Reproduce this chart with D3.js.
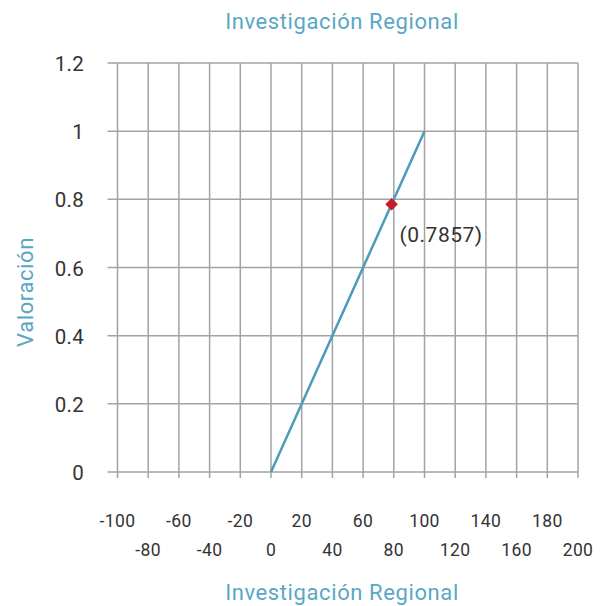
<!DOCTYPE html>
<html><head><meta charset="utf-8">
<script src="https://cdn.jsdelivr.net/npm/d3@7"></script>
<style>
html,body{margin:0;padding:0;background:#fff;}
svg text{font-family:Roboto,"DejaVu Sans",sans-serif;}
</style>
</head><body>
<svg id="c" width="601" height="606"></svg>
<script>
const titleText = "Investigación Regional";
const xTitle = "Investigación Regional";
const yTitle = "Valoración";
const xTicks = [-100,-80,-60,-40,-20,0,20,40,60,80,100,120,140,160,180,200];
const yTicks = [0,0.2,0.4,0.6,0.8,1,1.2];
const lineX = [0,100];
const lineY = [0,1];
const pointX = [78.57];
const pointY = [0.7857];
const pointLabels = ["(0.7857)"];

const svg = d3.select("#c");
const L=117.5, R=578, T=63, B=472;
const x = d3.scaleLinear().domain([-100,200]).range([L,R]);
const y = d3.scaleLinear().domain([0,1.2]).range([B,T]);
const gridC = "#a3a3a3", blue="#5aa7c5", txt="#333";

svg.append("g").selectAll("line").data(xTicks).join("line")
  .attr("x1",d=>x(d)).attr("x2",d=>x(d)).attr("y1",T).attr("y2",B+6)
  .attr("stroke",gridC).attr("stroke-width",1.5);
svg.append("g").selectAll("line").data(yTicks).join("line")
  .attr("x1",L-10).attr("x2",R).attr("y1",d=>y(d)).attr("y2",d=>y(d))
  .attr("stroke",gridC).attr("stroke-width",1.5);

svg.append("g").selectAll("text").data(yTicks).join("text")
  .attr("x",84).attr("y",d=>y(d)+8).attr("text-anchor","end")
  .attr("font-size",20.5).attr("letter-spacing",0.3).attr("fill",txt).text(d=>+d.toFixed(1));

svg.append("g").selectAll("text").data(xTicks).join("text")
  .attr("x",d=>x(d)).attr("y",(d,i)=> i%2===0 ? 527 : 556).attr("text-anchor","middle")
  .attr("font-size",17.5).attr("letter-spacing",0.4).attr("fill",txt).text(d=>d);

const pts = lineX.map((v,i)=>[v,lineY[i]]);
svg.append("path").datum(pts)
  .attr("d",d3.line().x(d=>x(d[0])).y(d=>y(d[1])))
  .attr("fill","none").attr("stroke","#4b9bb9").attr("stroke-width",2.5);

const ptData = pointX.map((v,i)=>({x:v,y:pointY[i],l:pointLabels[i]}));
svg.append("g").selectAll("path").data(ptData).join("path")
  .attr("d",d3.symbol().type(d3.symbolDiamond2).size(100))
  .attr("transform",d=>`translate(${x(d.x)},${y(d.y)})`)
  .attr("fill","#c41c2c");
svg.append("g").selectAll("text").data(ptData).join("text")
  .attr("x",d=>x(d.x)+8).attr("y",d=>y(d.y)+38)
  .attr("font-size",21).attr("letter-spacing",0.5).attr("fill",txt).text(d=>d.l);

svg.append("text").attr("x",342).attr("y",29).attr("text-anchor","middle")
  .attr("font-size",22).attr("letter-spacing",0.6).attr("fill",blue).text(titleText);
svg.append("text").attr("x",342).attr("y",600).attr("text-anchor","middle")
  .attr("font-size",22).attr("letter-spacing",0.6).attr("fill",blue).text(xTitle);
svg.append("text").attr("transform","translate(33,292) rotate(-90)").attr("text-anchor","middle")
  .attr("font-size",22).attr("letter-spacing",0.6).attr("fill",blue).text(yTitle);
</script>
</body></html>
